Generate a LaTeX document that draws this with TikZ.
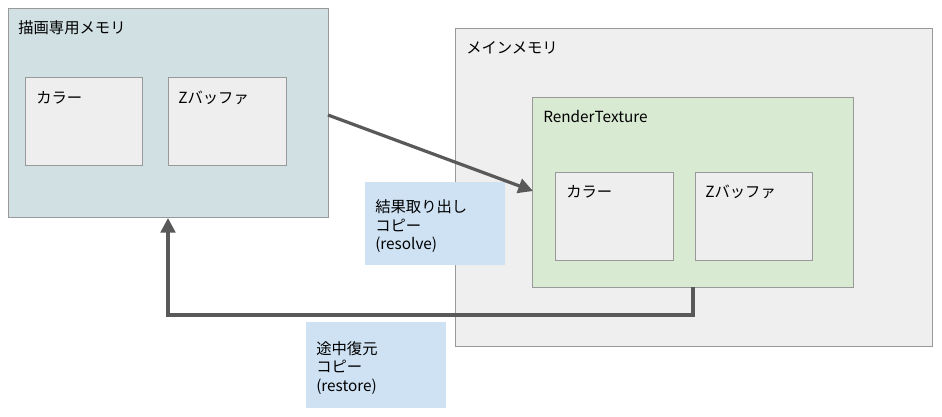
\documentclass[tikz,border=0pt]{standalone}
\usepackage{fontspec}
\setmainfont{Noto Sans CJK JP}
\usepackage{tikz}
\usetikzlibrary{positioning,arrows.meta}
\definecolor{memblue}{HTML}{D0E0E3}
\definecolor{memgray}{HTML}{EFEFEF}
\definecolor{rtgreen}{HTML}{D9EAD3}
\definecolor{bufgray}{HTML}{EEEEEE}
\definecolor{notebl}{HTML}{CFE2F3}
\definecolor{edge}{HTML}{999999}
\definecolor{arrowc}{HTML}{595959}
\begin{document}
\begin{tikzpicture}[x=0.75pt, y=-0.75pt, font=\fontsize{11.5}{14}\selectfont,
  box/.style={draw=edge, line width=0.6pt, anchor=north west, inner sep=0pt},
  lbl/.style={anchor=north west, inner sep=0pt},
  note/.style={fill=notebl, anchor=north west, align=left, inner sep=0pt, text width=105pt},
  conn/.style={draw=arrowc, line width=2.4pt, -{Triangle[length=11pt,width=11pt]}}]
	\useasboundingbox (0,0) rectangle (942,417);
	% dedicated memory
	\node[box, fill=memblue, minimum width=240pt, minimum height=156.75pt] (gpu) at (8,8) {};
	\node[lbl] at (18,20) {描画専用メモリ};
	\node[box, fill=bufgray, minimum width=87.75pt, minimum height=66pt] (gcol) at (25,77) {};
	\node[lbl] at (36,91) {カラー};
	\node[box, fill=bufgray, minimum width=88.5pt, minimum height=66pt] (gz) at (168,77) {};
	\node[lbl] at (178,91) {Zバッファ};
	% main memory
	\node[box, fill=memgray, minimum width=357.75pt, minimum height=238.5pt] (main) at (455,28) {};
	\node[lbl] at (466,41) {メインメモリ};
	\node[box, fill=rtgreen, minimum width=240.75pt, minimum height=142.5pt] (rt) at (532,97) {};
	\node[lbl] at (543,110) {RenderTexture};
	\node[box, fill=bufgray, minimum width=88.5pt, minimum height=66pt] (rcol) at (555,172) {};
	\node[lbl] at (566,185) {カラー};
	\node[box, fill=bufgray, minimum width=87.75pt, minimum height=66pt] (rz) at (695,172) {};
	\node[lbl] at (705,185) {Zバッファ};
	% notes
	\node[note, minimum height=62pt] (resolve) at (365,182) {\hspace*{7.5pt}\parbox[t]{95pt}{\vspace*{4pt}結果取り出し\\コピー\\(resolve)}};
	\node[note, minimum height=64.5pt] (restore) at (306,322) {\hspace*{7.5pt}\parbox[t]{95pt}{\vspace*{4pt}途中復元\\コピー\\(restore)}};
	% copies
	\coordinate (rsrc) at (328,115);
	\coordinate (rdst) at (533,191);
	\draw[conn] (rsrc) -- (rdst);
	\coordinate (bsrc) at (693,287);
	\coordinate (bdst) at (168,218);
	\draw[conn] (bsrc) -- (693,315) -- (168,315) -- (bdst);
\end{tikzpicture}
\end{document}
